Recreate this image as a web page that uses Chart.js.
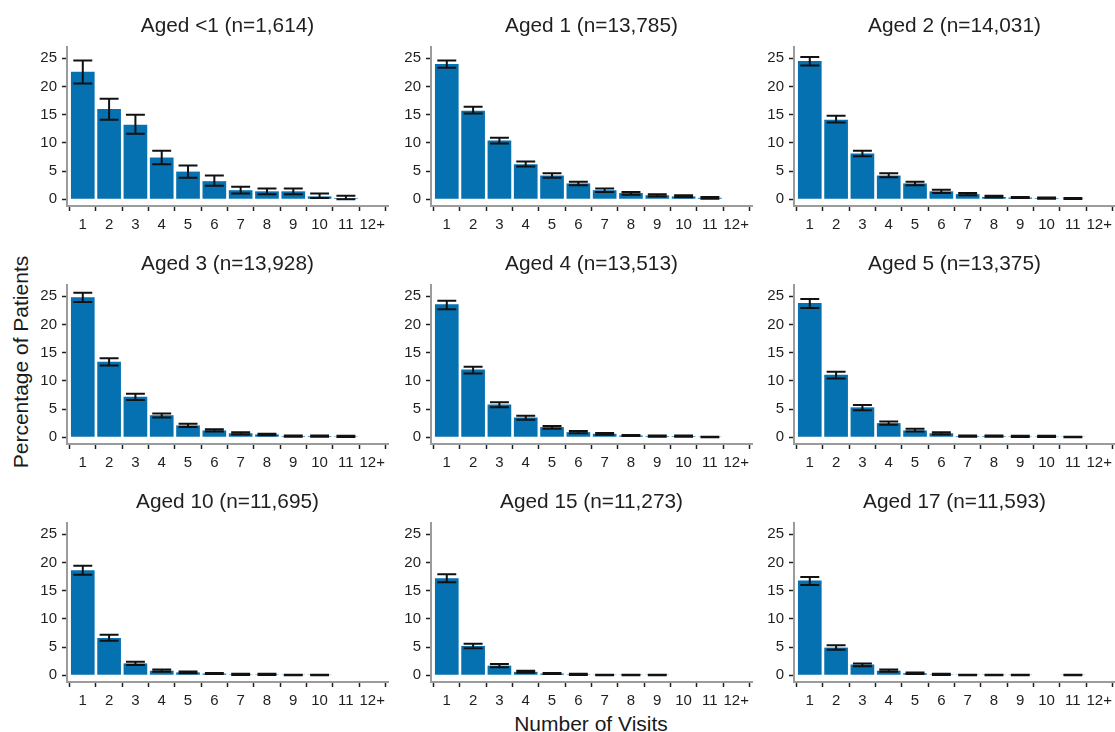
<!DOCTYPE html>
<html>
<head>
<meta charset="utf-8">
<script src="https://cdn.jsdelivr.net/npm/chart.js@4/dist/chart.umd.min.js"></script>
<style>
    body {
        margin: 0;
        background: #fff;
        width: 1115px;
        height: 732px;
        position: relative;
        overflow: hidden;
        font-family: 'Liberation Sans', Arial, sans-serif;
        color: #1a1a1a;
    }
    .panel { position: absolute; }
    .axis-title {
        position: absolute;
        font-size: 21px;
        white-space: nowrap;
    }
    #y-title { left: 21px; top: 362px; transform: translate(-50%, -50%) rotate(-90deg); }
    #x-title { left: 591px; top: 724px; transform: translate(-50%, -50%); }
</style>
</head>
<body>
<div class="axis-title" id="y-title">Percentage of Patients</div>
<div class="axis-title" id="x-title">Number of Visits</div>
<script>
const visitLabels = ['1', '2', '3', '4', '5', '6', '7', '8', '9', '10', '11', '12+'];
const yTicks = [0, 5, 10, 15, 20, 25];

const panelTitles = [
    'Aged <1 (n=1,614)', 'Aged 1 (n=13,785)', 'Aged 2 (n=14,031)',
    'Aged 3 (n=13,928)', 'Aged 4 (n=13,513)', 'Aged 5 (n=13,375)',
    'Aged 10 (n=11,695)', 'Aged 15 (n=11,273)', 'Aged 17 (n=11,593)'
];

// percentage of patients per visit count, with lower / upper error bar ends
const under1Pct = [22.6, 16.0, 13.2, 7.4, 4.9, 3.2, 1.6, 1.4, 1.4, 0.5, 0.2, null];
const under1Lo  = [20.5, 14.1, 11.6, 6.2, 3.8, 2.4, 1.0, 0.9, 0.9, 0.2, 0.0, null];
const under1Hi  = [24.6, 17.8, 15.0, 8.6, 6.0, 4.2, 2.2, 1.9, 1.9, 1.0, 0.6, null];

const age1Pct = [24.0, 15.7, 10.4, 6.2, 4.2, 2.8, 1.6, 1.1, 0.7, 0.5, 0.25, null];
const age1Lo  = [23.3, 15.2, 9.9, 5.8, 3.8, 2.5, 1.3, 0.8, 0.5, 0.35, 0.1, null];
const age1Hi  = [24.6, 16.4, 10.9, 6.7, 4.6, 3.1, 1.9, 1.3, 0.9, 0.7, 0.4, null];

const age2Pct = [24.5, 14.1, 8.1, 4.2, 2.8, 1.4, 0.9, 0.4, 0.3, 0.2, 0.1, null];
const age2Lo  = [23.7, 13.6, 7.6, 3.9, 2.5, 1.1, 0.7, 0.3, 0.2, 0.1, 0.05, null];
const age2Hi  = [25.2, 14.8, 8.6, 4.6, 3.1, 1.7, 1.1, 0.6, 0.4, 0.3, 0.2, null];

const age3Pct = [24.8, 13.4, 7.2, 3.9, 2.1, 1.2, 0.7, 0.5, 0.2, 0.2, 0.15, null];
const age3Lo  = [24.0, 12.7, 6.6, 3.5, 1.8, 1.0, 0.5, 0.35, 0.1, 0.1, 0.05, null];
const age3Hi  = [25.6, 14.0, 7.7, 4.2, 2.4, 1.4, 0.9, 0.6, 0.3, 0.3, 0.25, null];

const age4Pct = [23.6, 12.0, 5.8, 3.5, 1.8, 0.9, 0.6, 0.3, 0.2, 0.2, 0.05, null];
const age4Lo  = [22.7, 11.3, 5.3, 3.1, 1.5, 0.7, 0.45, 0.2, 0.1, 0.1, 0.0, null];
const age4Hi  = [24.2, 12.5, 6.2, 3.8, 2.0, 1.1, 0.75, 0.4, 0.3, 0.3, 0.1, null];

const age5Pct = [23.8, 11.1, 5.3, 2.5, 1.2, 0.7, 0.2, 0.2, 0.15, 0.15, 0.05, null];
const age5Lo  = [22.9, 10.4, 4.8, 2.2, 1.0, 0.5, 0.1, 0.1, 0.05, 0.05, 0.0, null];
const age5Hi  = [24.5, 11.6, 5.7, 2.8, 1.5, 0.9, 0.3, 0.3, 0.25, 0.25, 0.1, null];

const age10Pct = [18.6, 6.6, 2.1, 0.8, 0.5, 0.3, 0.15, 0.15, 0.05, 0.05, null, null];
const age10Lo  = [17.8, 6.1, 1.8, 0.6, 0.35, 0.2, 0.05, 0.05, 0.0, 0.0, null, null];
const age10Hi  = [19.4, 7.2, 2.4, 1.0, 0.65, 0.4, 0.25, 0.25, 0.1, 0.1, null, null];

const age15Pct = [17.2, 5.2, 1.7, 0.6, 0.3, 0.15, 0.05, 0.05, 0.05, null, null, null];
const age15Lo  = [16.5, 4.8, 1.4, 0.45, 0.2, 0.05, 0.0, 0.0, 0.0, null, null, null];
const age15Hi  = [17.9, 5.6, 2.0, 0.8, 0.4, 0.25, 0.1, 0.1, 0.1, null, null, null];

const age17Pct = [16.8, 4.9, 1.9, 0.8, 0.35, 0.15, 0.05, 0.05, 0.05, null, 0.05, null];
const age17Lo  = [16.0, 4.5, 1.6, 0.6, 0.2, 0.05, 0.0, 0.0, 0.0, null, 0.0, null];
const age17Hi  = [17.4, 5.3, 2.1, 1.0, 0.5, 0.25, 0.1, 0.1, 0.1, null, 0.1, null];

const panelSeries = [
    [under1Pct, under1Lo, under1Hi], [age1Pct, age1Lo, age1Hi], [age2Pct, age2Lo, age2Hi],
    [age3Pct, age3Lo, age3Hi], [age4Pct, age4Lo, age4Hi], [age5Pct, age5Lo, age5Hi],
    [age10Pct, age10Lo, age10Hi], [age15Pct, age15Lo, age15Hi], [age17Pct, age17Lo, age17Hi]
];

// layout of the 3x3 grid (plot area left / top, in page pixels)
const colLeft = [67, 431, 794];
const rowTop = [46, 284, 522];
const plotW = 321, plotH = 160;
const yAxisW = 50, titleH = 32, xAxisH = 30, padRight = 6;

const textColor = '#1f1f1f';
const axisColor = '#9b9b9b';
const barColor = '#0571b0';

Chart.defaults.font.family = "'Liberation Sans', Arial, sans-serif";
Chart.defaults.color = textColor;

const errorBars = {
    id: 'errorBars',
    afterDatasetsDraw(chart) {
        const { ctx } = chart;
        const xs = chart.scales.x, ys = chart.scales.y;
        ctx.save();
        ctx.strokeStyle = '#111';
        ctx.lineWidth = 2;
        chart.data.datasets[0].data.forEach(p => {
            const cx = xs.getPixelForValue(p.x);
            const half = xs.getPixelForValue(p.x + 0.36) - cx;
            const top = ys.getPixelForValue(p.hi);
            const bot = ys.getPixelForValue(p.lo);
            ctx.beginPath();
            ctx.moveTo(cx, top); ctx.lineTo(cx, bot);
            ctx.moveTo(cx - half, top); ctx.lineTo(cx + half, top);
            ctx.moveTo(cx - half, bot); ctx.lineTo(cx + half, bot);
            ctx.stroke();
        });
        ctx.restore();
    }
};

function axisGrid() {
    return { drawOnChartArea: false, drawTicks: true, tickLength: 5, tickColor: textColor, tickWidth: 1.5 };
}

function makePanel(idx) {
    const row = Math.floor(idx / 3), col = idx % 3;
    const [pct, lo, hi] = panelSeries[idx];

    const box = document.createElement('div');
    box.className = 'panel';
    box.style.left = (colLeft[col] - yAxisW) + 'px';
    box.style.top = (rowTop[row] - titleH) + 'px';
    box.style.width = (yAxisW + plotW + padRight) + 'px';
    box.style.height = (titleH + plotH + xAxisH) + 'px';
    const canvas = document.createElement('canvas');
    box.appendChild(canvas);
    document.body.appendChild(box);

    const points = [];
    pct.forEach((v, k) => {
        if (v !== null) points.push({ x: k + 1, y: v, lo: lo[k], hi: hi[k] });
    });

    new Chart(canvas, {
        type: 'bar',
        data: {
            datasets: [{
                data: points,
                backgroundColor: barColor,
                borderWidth: 0,
                barPercentage: 0.9,
                categoryPercentage: 1.0
            }]
        },
        options: {
            responsive: true,
            maintainAspectRatio: false,
            animation: false,
            layout: { padding: { top: 0, left: 0, right: padRight, bottom: 0 } },
            plugins: {
                legend: { display: false },
                tooltip: { enabled: false },
                title: {
                    display: true,
                    text: panelTitles[idx],
                    fullSize: false,
                    color: textColor,
                    font: { size: 20.8, weight: 'normal' },
                    padding: { top: 0, bottom: 8 }
                }
            },
            scales: {
                x: {
                    type: 'linear',
                    offset: false,
                    min: 0.4,
                    max: 12.6,
                    afterBuildTicks: s => { s.ticks = visitLabels.map((_, k) => ({ value: k + 1 })); },
                    afterFit: s => { s.height = xAxisH; },
                    ticks: {
                        callback: v => visitLabels[v - 1],
                        autoSkip: false,
                        maxRotation: 0,
                        padding: 5,
                        font: { size: 15 }
                    },
                    grid: axisGrid(),
                    border: { display: true, color: axisColor, width: 2 }
                },
                y: {
                    min: -1.2,
                    max: 27,
                    afterBuildTicks: s => { s.ticks = yTicks.map(v => ({ value: v })); },
                    afterFit: s => { s.width = yAxisW; },
                    ticks: { padding: 5, font: { size: 15 } },
                    grid: axisGrid(),
                    border: { display: true, color: axisColor, width: 2 }
                }
            }
        },
        plugins: [errorBars]
    });
}

panelTitles.forEach((_, i) => makePanel(i));
</script>
</body>
</html>
